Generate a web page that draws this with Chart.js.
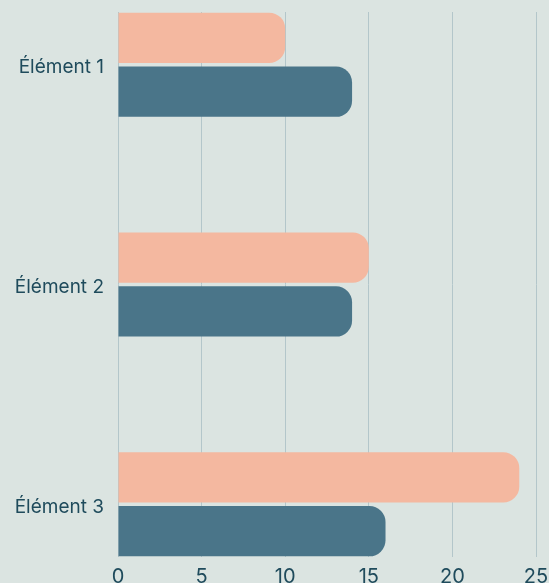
<!DOCTYPE html>
<html>
<head>
<meta charset="utf-8">
<script src="https://cdn.jsdelivr.net/npm/chart.js@4"></script>
<style>
  html, body { margin: 0; padding: 0; background: #dbe4e1; }
  #wrap { width: 549px; height: 583px; }
</style>
</head>
<body>
<div id="wrap"><canvas id="chart"></canvas></div>
<script>
// chart values
const categories = ['Élément 1', 'Élément 2', 'Élément 3'];
const seriesA = [10, 15, 24];   // salmon
const seriesB = [14, 14, 16];   // teal
const xTicks = [0, 5, 10, 15, 20, 25];

const textColor = '#1f4b5c';

function toPoints(values) {
    return values.map((v, i) => ({ x: v, y: i }));
}

const ctx = document.getElementById('chart').getContext('2d');
new Chart(ctx, {
    type: 'bar',
    data: {
        datasets: [
            {
                label: 'Série 1',
                data: toPoints(seriesA),
                backgroundColor: '#f4b8a0',
                borderRadius: 16,
                borderSkipped: 'start'
            },
            {
                label: 'Série 2',
                data: toPoints(seriesB),
                backgroundColor: '#4a7589',
                borderRadius: 16,
                borderSkipped: 'start'
            }
        ]
    },
    options: {
        indexAxis: 'y',
        responsive: true,
        maintainAspectRatio: false,
        animation: false,
        categoryPercentage: 0.49,
        barPercentage: 0.935,
        layout: { padding: { top: 12, right: 13, left: 0, bottom: 0 } },
        scales: {
            x: {
                min: 0,
                max: 25,
                afterBuildTicks: (axis) => { axis.ticks = xTicks.map(v => ({ value: v })); },
                afterFit: (axis) => {
                    axis.height = 26;
                    axis.paddingLeft = 0;
                    axis.paddingRight = 0;
                },
                border: { display: false },
                grid: { color: '#b3c6ca', drawTicks: false, lineWidth: 1 },
                ticks: {
                    color: textColor,
                    padding: 8,
                    font: { family: 'Inter', size: 20 }
                }
            },
            y: {
                type: 'linear',
                reverse: true,
                offset: false,
                min: -0.24,
                max: 2.24,
                afterBuildTicks: (axis) => { axis.ticks = categories.map((c, i) => ({ value: i })); },
                afterFit: (axis) => {
                    axis.width = 118;
                    axis.paddingTop = 0;
                    axis.paddingBottom = 0;
                },
                border: { display: false },
                grid: { display: false, drawTicks: false },
                ticks: {
                    color: textColor,
                    padding: 14,
                    labelOffset: 3,
                    font: { family: 'Inter', size: 19 },
                    callback: (value) => categories[value]
                }
            }
        },
        plugins: {
            legend: { display: false },
            tooltip: { enabled: false }
        }
    }
});
</script>
</body>
</html>
